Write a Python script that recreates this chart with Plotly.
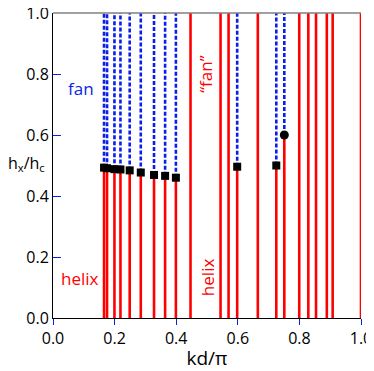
import plotly.graph_objects as go

# kd/pi positions where the helix gives way to a fan above a critical field
kd_square = [0.1657, 0.1755, 0.1995, 0.219, 0.249, 0.285, 0.328, 0.364, 0.399, 0.598, 0.725]
hx_square = [0.493, 0.491, 0.488, 0.487, 0.484, 0.477, 0.469, 0.466, 0.460, 0.496, 0.500]
kd_circle = [0.751]
hx_circle = [0.600]
# kd/pi positions that stay helix up to hx/hc = 1
kd_helix = [0.4465, 0.544, 0.570, 0.665, 0.7995, 0.829, 0.854, 0.889, 0.908, 1.0]

kd_trans = kd_square + kd_circle
hx_trans = hx_square + hx_circle

red_x, red_y, blue_x, blue_y = [], [], [], []
for k, h in zip(kd_trans, hx_trans):
    red_x += [k, k, None]
    red_y += [0, h, None]
    blue_x += [k, k, None]
    blue_y += [h, 1, None]
for k in kd_helix:
    red_x += [k, k, None]
    red_y += [0, 1, None]

RED = "#ff0000"
BLUE = "#0a1fe8"
font = "Open Sans, Liberation Sans, sans-serif"

fig = go.Figure()
fig.add_trace(go.Scatter(x=red_x, y=red_y, mode="lines",
                         line=dict(color=RED, width=2.6), hoverinfo="skip"))
fig.add_trace(go.Scatter(x=blue_x, y=blue_y, mode="lines",
                         line=dict(color=BLUE, width=2.6, dash="4px,2px"), hoverinfo="skip"))
fig.add_trace(go.Scatter(x=kd_square, y=hx_square, mode="markers",
                         marker=dict(symbol="square", size=8, color="black")))
fig.add_trace(go.Scatter(x=kd_circle, y=hx_circle, mode="markers",
                         marker=dict(symbol="circle", size=9, color="black")))

# gray frame line along the top
fig.add_shape(type="line", xref="paper", yref="paper", x0=0, x1=1, y0=1, y1=1,
              line=dict(color="#808080", width=1.5))

fig.add_annotation(x=0.092, y=0.753, text="fan", showarrow=False,
                   font=dict(color=BLUE, size=17, family=font))
fig.add_annotation(x=0.087, y=0.128, text="helix", showarrow=False,
                   font=dict(color=RED, size=17, family=font))
fig.add_annotation(x=0.493, y=0.80, text="\u201cfan\u201d", showarrow=False, textangle=-90,
                   font=dict(color=RED, size=17, family=font))
fig.add_annotation(x=0.5, y=0.134, text="helix", showarrow=False, textangle=-90,
                   font=dict(color=RED, size=17, family=font))
fig.add_annotation(xref="paper", yref="y", x=-0.0195, y=0.505, xanchor="right",
                   text="h<sub>x</sub>/h<sub>c</sub>", showarrow=False,
                   font=dict(color="black", size=16, family=font))

# page body adds an 8px margin, so the figure is sized to the visible area
fig.update_layout(
    width=366, height=363,
    margin=dict(l=45, r=13, t=5, b=53),
    plot_bgcolor="white", paper_bgcolor="white",
    showlegend=False,
    font=dict(family=font, size=16, color="black"),
    xaxis=dict(range=[0, 1], tickvals=[0, 0.2, 0.4, 0.6, 0.8, 1.0], tickformat=".1f",
               ticks="outside", ticklen=6, tickcolor=BLUE, tickwidth=1,
               showline=True, linecolor="black", linewidth=1,
               showgrid=False, zeroline=False, automargin=False,
               ticklabeloverflow="allow",
               title=dict(text="kd/\u03c0", standoff=3,
                          font=dict(family=font, size=19, color="black"))),
    yaxis=dict(range=[0, 1], tickvals=[0, 0.2, 0.4, 0.6, 0.8, 1.0], tickformat=".1f",
               ticks="inside", ticklen=8, tickcolor=BLUE, tickwidth=1,
               showline=True, linecolor="black", linewidth=1,
               showgrid=False, zeroline=False, automargin=False,
               ticklabeloverflow="allow"),
)

fig.write_html("out.html")
